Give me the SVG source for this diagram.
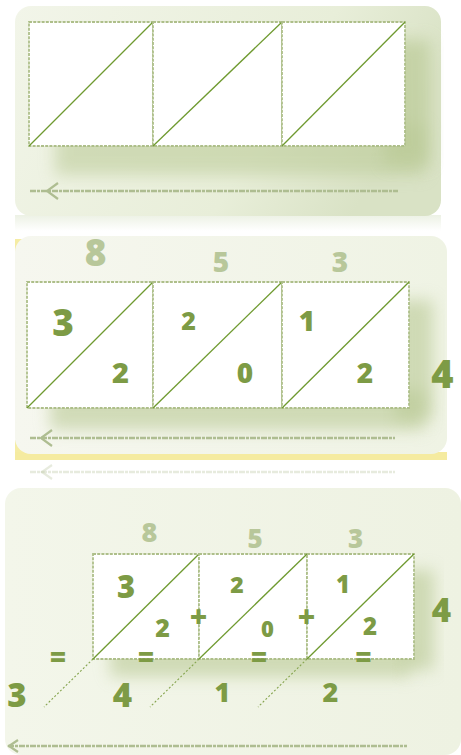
<svg xmlns="http://www.w3.org/2000/svg" width="461" height="755" viewBox="0 0 461 755">
<defs>
<linearGradient id="bg1" x1="0" y1="0" x2="1" y2="0.3"><stop offset="0" stop-color="#f2f5e9"/><stop offset="0.7" stop-color="#e8eed9"/><stop offset="1" stop-color="#d9e2c5"/></linearGradient>
<linearGradient id="bg2" x1="0" y1="0" x2="1" y2="0"><stop offset="0" stop-color="#f6f7ef"/><stop offset="1" stop-color="#eff3e4"/></linearGradient>
<linearGradient id="bg3" x1="0" y1="0" x2="1" y2="0"><stop offset="0" stop-color="#f3f6ea"/><stop offset="1" stop-color="#eef2e2"/></linearGradient>
<linearGradient id="refl" x1="0" y1="0" x2="0" y2="1"><stop offset="0" stop-color="#e8eede"/><stop offset="1" stop-color="#ffffff"/></linearGradient>
<filter id="blur" x="-30%" y="-60%" width="160%" height="220%"><feGaussianBlur stdDeviation="8"/></filter>
</defs>
<style>
.cell{fill:#ffffff;stroke:#aebf8a;stroke-width:1.8;stroke-dasharray:3 1.2}
.diag{stroke:#6f9a30;stroke-width:1.3;fill:none}
.ext{stroke:#86a54f;stroke-width:1.1;stroke-dasharray:2 2;fill:none}
.shadow{fill:#b9c994;filter:url(#blur)}
.arrow{stroke:#aebd91;stroke-width:2.6;stroke-dasharray:6 1 3 1;fill:none}
.ahead{stroke:#aebd91;stroke-width:2.2;fill:none}
.d{font-family:"Open Sans","DejaVu Sans",sans-serif;font-weight:800;fill:#7d9b45;text-anchor:middle}
.t{font-family:"Open Sans","DejaVu Sans",sans-serif;font-weight:800;fill:#b8c79a;text-anchor:middle}
</style>

<!-- Panel 1 -->
<g id="panel1">
<rect x="15" y="215" width="426" height="16" fill="url(#refl)" opacity="0.8"/>
<rect x="15" y="6" width="426" height="210" rx="16" fill="url(#bg1)"/>
<rect class="shadow" x="55" y="125" width="370" height="50" opacity="0.55"/>
<rect class="shadow" x="385" y="40" width="45" height="125" opacity="0.65"/>
<g id="p1c1"><rect class="cell" x="29" y="22" width="124" height="124"/><line class="diag" x1="29" y1="146" x2="153" y2="22"/></g>
<g id="p1c2"><rect class="cell" x="153" y="22" width="129" height="124"/><line class="diag" x1="153" y1="146" x2="282" y2="22"/></g>
<g id="p1c3"><rect class="cell" x="282" y="22" width="123" height="124"/><line class="diag" x1="282" y1="146" x2="405" y2="22"/></g>
</g>

<!-- Panel 2 -->
<g id="panel2">
<rect x="15" y="239" width="10" height="14" fill="#f5eca4"/>
<rect x="15" y="440" width="10" height="20" fill="#f5eca4"/>
<rect x="15" y="452" width="432" height="8" fill="#f5eba0"/>
<rect x="15" y="236" width="432" height="218" rx="16" fill="url(#bg2)"/>
<rect class="shadow" x="50" y="390" width="375" height="40" opacity="0.6"/>
<rect class="shadow" x="395" y="300" width="38" height="120" opacity="0.6"/>
<text class="t" x="95.5" y="266" font-size="37">8</text>
<text class="t" x="221" y="272" font-size="28">5</text>
<text class="t" x="340" y="272" font-size="28">3</text>
<g id="p2c1"><rect class="cell" x="27" y="282" width="126" height="126"/><line class="diag" x1="27" y1="408" x2="153" y2="282"/>
<text class="d" x="63" y="336" font-size="37">3</text><text class="d" x="120.5" y="383" font-size="29">2</text></g>
<g id="p2c2"><rect class="cell" x="153" y="282" width="129" height="126"/><line class="diag" x1="153" y1="408" x2="282" y2="282"/>
<text class="d" x="188.5" y="330" font-size="25">2</text><text class="d" x="245" y="383" font-size="28">0</text></g>
<g id="p2c3"><rect class="cell" x="282" y="282" width="127" height="126"/><line class="diag" x1="282" y1="408" x2="409" y2="282"/>
<text class="d" x="307" y="331" font-size="28">1</text><text class="d" x="365" y="383" font-size="28">2</text></g>
<text class="d" x="442.5" y="388" font-size="38">4</text>
</g>

<!-- Panel 3 -->
<g id="panel3">
<rect x="5" y="488" width="456" height="267" rx="16" fill="url(#bg3)"/>
<rect class="shadow" x="110" y="645" width="300" height="32" opacity="0.6"/>
<rect class="shadow" x="402" y="570" width="32" height="100" opacity="0.6"/>
<text class="t" x="149.5" y="542" font-size="27">8</text>
<text class="t" x="255" y="548" font-size="26">5</text>
<text class="t" x="355.5" y="548" font-size="26">3</text>
<g id="p3c1"><rect class="cell" x="93" y="554" width="106" height="105"/><line class="diag" x1="93" y1="659" x2="199" y2="554"/>
<text class="d" x="126" y="598" font-size="31">3</text><text class="d" x="162.5" y="637" font-size="25">2</text></g>
<g id="p3c2"><rect class="cell" x="199" y="554" width="108" height="105"/><line class="diag" x1="199" y1="659" x2="307" y2="554"/>
<text class="d" x="237" y="593" font-size="23">2</text><text class="d" x="267.5" y="637" font-size="22">0</text></g>
<g id="p3c3"><rect class="cell" x="307" y="554" width="107" height="105"/><line class="diag" x1="307" y1="659" x2="414" y2="554"/>
<text class="d" x="343" y="593" font-size="24">1</text><text class="d" x="370" y="635" font-size="24">2</text></g>
<text class="d" x="441.5" y="622" font-size="33">4</text>
<text class="d" x="198.5" y="627" font-size="30">+</text>
<text class="d" x="306.5" y="627" font-size="30">+</text>
<text class="d" x="58" y="667" font-size="28">=</text>
<text class="d" x="146" y="667" font-size="28">=</text>
<text class="d" x="259" y="667" font-size="28">=</text>
<text class="d" x="363.5" y="667" font-size="28">=</text>
<text class="d" x="17" y="707" font-size="33">3</text>
<text class="d" x="122.5" y="707" font-size="33">4</text>
<text class="d" x="222.5" y="702" font-size="27">1</text>
<text class="d" x="330.5" y="702" font-size="27">2</text>
</g>

<!-- connectors: diagonal extensions and arrows -->
<g id="connectors">
<line class="ext" x1="93" y1="659" x2="44" y2="707"/>
<line class="ext" x1="199" y1="659" x2="150" y2="707"/>
<line class="ext" x1="307" y1="659" x2="258" y2="707"/>
<line class="arrow" x1="30" y1="191" x2="398" y2="191"/>
<path class="ahead" d="M58 183 L47 191 L58 199"/>
<line class="arrow" x1="30" y1="438" x2="395" y2="438"/>
<path class="ahead" d="M52 430 L41 438 L52 446"/>
<line class="arrow" x1="30" y1="472" x2="395" y2="472" opacity="0.3"/>
<path class="ahead" d="M52 465 L42 472 L52 479" opacity="0.3"/>
<line class="arrow" x1="8" y1="746" x2="407" y2="746"/>
<path class="ahead" d="M18 740 L9 746 L18 752"/>
</g>
</svg>
